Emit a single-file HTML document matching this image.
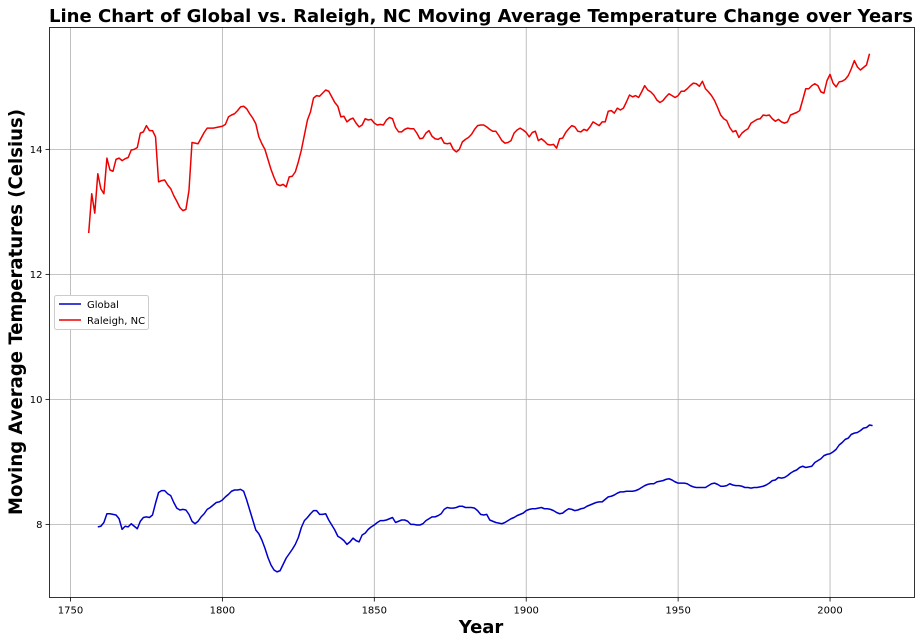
<!DOCTYPE html>
<html><head><meta charset="utf-8"><style>
body{margin:0;background:#fff;}
svg{display:block;font-family:"DejaVu Sans","Liberation Sans",sans-serif;}
</style></head><body>
<svg id="chart" width="921" height="644" viewBox="0 0 921 644" xmlns="http://www.w3.org/2000/svg">
<rect width="921" height="644" fill="#fff"/>
<text x="481" y="22" text-anchor="middle" font-size="18" font-weight="bold" textLength="864" lengthAdjust="spacingAndGlyphs">Line Chart of Global vs. Raleigh, NC  Moving Average Temperature Change over Years</text>
<g id="grid"></g>
<g id="series"></g>
<rect x="49.5" y="27.5" width="865" height="570" fill="none" stroke="#000" stroke-width="0.8"/>
<g id="ticks"></g>
<text x="481" y="633" text-anchor="middle" font-size="18" font-weight="bold">Year</text>
<text transform="translate(22,312) rotate(-90)" text-anchor="middle" font-size="19" font-weight="bold" textLength="406" lengthAdjust="spacingAndGlyphs">Moving Average Temperatures (Celsius)</text>
<g>
<rect x="54.5" y="295.5" width="94" height="34" rx="2" fill="#fff" stroke="#ccc"/>
<line x1="59" y1="304" x2="81" y2="304" stroke="#0000cc" stroke-width="1.5"/>
<text x="87" y="308" font-size="10">Global</text>
<line x1="59" y1="320" x2="81" y2="320" stroke="#ee0000" stroke-width="1.5"/>
<text x="87" y="324" font-size="10">Raleigh, NC</text>
</g>
</svg>
<script>
const xTicks=[1750,1800,1850,1900,1950,2000];
const yTicks=[8,10,12,14];
const globalStart=1759;
const globalValues=[7.96,7.97,8.03,8.17,8.17,8.16,8.15,8.09,7.92,7.97,7.96,8.01,7.97,7.93,8.05,8.11,8.12,8.11,8.15,8.34,8.51,8.54,8.54,8.49,8.46,8.35,8.26,8.23,8.24,8.23,8.16,8.05,8.01,8.05,8.12,8.17,8.24,8.27,8.31,8.35,8.36,8.39,8.44,8.48,8.53,8.55,8.55,8.56,8.53,8.39,8.23,8.07,7.91,7.85,7.75,7.62,7.47,7.35,7.27,7.24,7.26,7.36,7.46,7.53,7.6,7.68,7.79,7.95,8.06,8.11,8.17,8.22,8.22,8.16,8.16,8.17,8.07,7.99,7.91,7.81,7.78,7.74,7.68,7.72,7.78,7.74,7.72,7.83,7.86,7.92,7.96,7.99,8.03,8.06,8.06,8.07,8.09,8.11,8.03,8.05,8.07,8.07,8.05,8.0,8.0,7.99,7.99,8.01,8.06,8.09,8.12,8.12,8.14,8.17,8.24,8.27,8.26,8.26,8.27,8.29,8.29,8.27,8.27,8.27,8.26,8.22,8.16,8.15,8.16,8.07,8.05,8.03,8.02,8.01,8.03,8.06,8.09,8.11,8.14,8.16,8.18,8.22,8.24,8.25,8.25,8.26,8.27,8.25,8.25,8.24,8.22,8.19,8.17,8.18,8.22,8.25,8.24,8.22,8.23,8.25,8.26,8.29,8.31,8.33,8.35,8.36,8.36,8.4,8.44,8.45,8.47,8.5,8.52,8.52,8.53,8.53,8.53,8.54,8.56,8.59,8.62,8.64,8.65,8.65,8.68,8.69,8.7,8.72,8.73,8.71,8.68,8.66,8.66,8.66,8.65,8.62,8.6,8.59,8.59,8.59,8.59,8.62,8.65,8.66,8.64,8.61,8.61,8.62,8.65,8.63,8.62,8.62,8.61,8.59,8.59,8.58,8.59,8.59,8.6,8.61,8.63,8.66,8.7,8.71,8.75,8.74,8.75,8.78,8.82,8.85,8.87,8.91,8.93,8.91,8.92,8.93,8.99,9.02,9.05,9.1,9.12,9.13,9.16,9.2,9.27,9.31,9.36,9.38,9.44,9.46,9.47,9.5,9.54,9.55,9.59,9.58];
const raleighStart=1756;
const raleighValues=[12.66,13.29,12.98,13.61,13.37,13.29,13.86,13.67,13.65,13.84,13.86,13.82,13.85,13.87,13.99,14.0,14.03,14.26,14.28,14.38,14.3,14.3,14.2,13.48,13.5,13.51,13.43,13.37,13.26,13.17,13.07,13.02,13.04,13.34,14.11,14.1,14.09,14.18,14.27,14.34,14.34,14.34,14.35,14.36,14.37,14.4,14.52,14.55,14.57,14.62,14.68,14.69,14.65,14.57,14.5,14.41,14.2,14.09,14.0,13.84,13.68,13.55,13.44,13.42,13.44,13.4,13.56,13.57,13.64,13.8,13.99,14.23,14.47,14.6,14.82,14.86,14.85,14.9,14.95,14.93,14.84,14.75,14.69,14.52,14.53,14.44,14.48,14.5,14.42,14.36,14.39,14.49,14.47,14.48,14.42,14.39,14.4,14.39,14.47,14.51,14.49,14.35,14.28,14.28,14.32,14.34,14.33,14.33,14.26,14.17,14.18,14.26,14.3,14.21,14.17,14.16,14.19,14.1,14.09,14.1,14.0,13.96,14.0,14.12,14.16,14.19,14.24,14.32,14.38,14.39,14.39,14.36,14.32,14.29,14.29,14.22,14.14,14.1,14.11,14.14,14.26,14.31,14.34,14.31,14.27,14.2,14.27,14.29,14.14,14.17,14.13,14.08,14.07,14.08,14.02,14.17,14.18,14.27,14.33,14.38,14.36,14.29,14.28,14.32,14.3,14.36,14.44,14.41,14.38,14.44,14.44,14.61,14.62,14.58,14.66,14.63,14.66,14.76,14.87,14.84,14.86,14.83,14.92,15.02,14.95,14.92,14.87,14.79,14.75,14.78,14.84,14.89,14.86,14.83,14.86,14.93,14.93,14.97,15.02,15.06,15.05,15.01,15.09,14.97,14.92,14.86,14.78,14.67,14.55,14.49,14.46,14.35,14.28,14.3,14.19,14.26,14.3,14.33,14.42,14.45,14.48,14.49,14.55,14.54,14.55,14.49,14.45,14.48,14.44,14.42,14.44,14.55,14.57,14.59,14.62,14.79,14.97,14.97,15.02,15.05,15.02,14.92,14.9,15.1,15.2,15.06,15.0,15.08,15.09,15.12,15.18,15.29,15.42,15.32,15.27,15.31,15.35,15.53];

const X0=49.5,X1=914.5,Y0=27.5,Y1=597.5;
const xMin=1743.1,xMax=2027.8,yMin=6.83,yMax=15.95;
function sx(v){return X0+(v-xMin)/(xMax-xMin)*(X1-X0);}
function sy(v){return Y1-(v-yMin)/(yMax-yMin)*(Y1-Y0);}
const NS='http://www.w3.org/2000/svg';
const grid=document.getElementById('grid'),ticks=document.getElementById('ticks'),series=document.getElementById('series');
function mk(tag,attrs,parent){const e=document.createElementNS(NS,tag);for(const k in attrs)e.setAttribute(k,attrs[k]);parent.appendChild(e);return e;}
xTicks.forEach(t=>{
  const x=sx(t);
  const g=mk('line',{x1:x,x2:x,y1:Y0,y2:Y1,stroke:'#b0b0b0','stroke-width':0.8},grid);
  
  
  mk('line',{x1:x,x2:x,y1:Y1,y2:Y1+4,stroke:'#000','stroke-width':0.8},ticks);
  const tx=mk('text',{x:x,y:Y1+16,'text-anchor':'middle','font-size':10},ticks);
  tx.textContent=t;
  
  
});
yTicks.forEach(t=>{
  const y=sy(t);
  const g=mk('line',{x1:X0,x2:X1,y1:y,y2:y,stroke:'#b0b0b0','stroke-width':0.8},grid);
  
  
  mk('line',{x1:X0-4,x2:X0,y1:y,y2:y,stroke:'#000','stroke-width':0.8},ticks);
  const tx=mk('text',{x:X0-7,y:y+3.5,'text-anchor':'end','font-size':10},ticks);
  tx.textContent=t;
  
  
});
function line(start,vals,color,name){
  const d=vals.map((v,i)=>(i?'L':'M')+sx(start+i).toFixed(2)+','+sy(v).toFixed(2)).join('');
  const p=mk('path',{d:d,fill:'none',stroke:color,'stroke-width':1.5,'stroke-linejoin':'round'},series);
  
  
}
line(globalStart,globalValues,'#0000cc','global-line');
line(raleighStart,raleighValues,'#ee0000','raleigh-line');
</script>
</body></html>
